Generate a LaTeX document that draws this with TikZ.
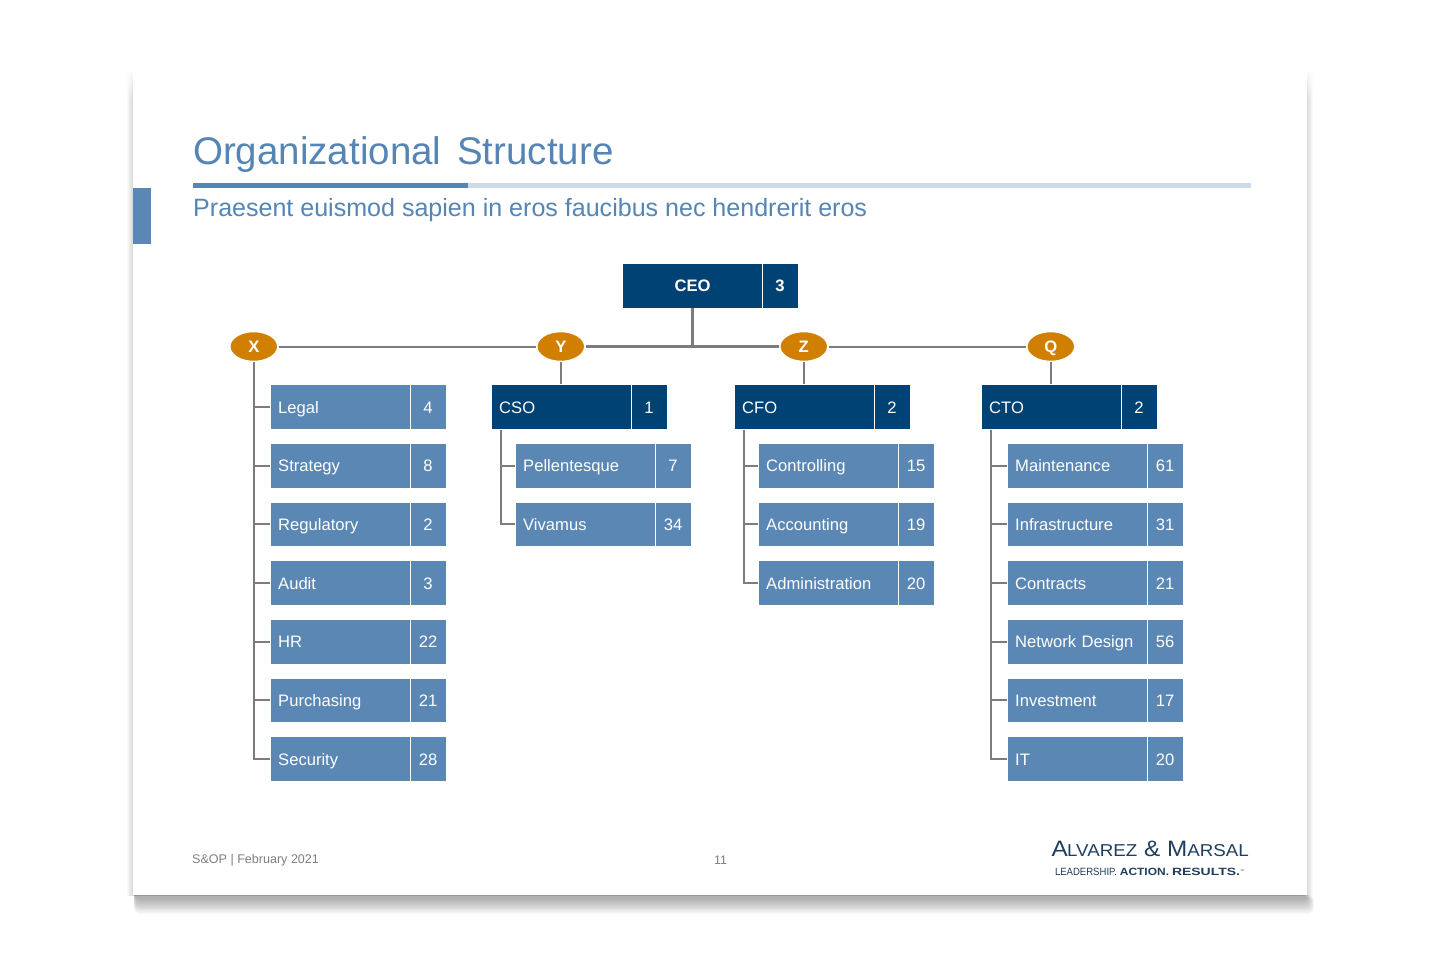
\documentclass[tikz,border=0pt]{standalone}
\usepackage{fontspec}
\setmainfont{Liberation Sans}
\usetikzlibrary{positioning,shapes.geometric,fadings}

\definecolor{slateblue}{HTML}{5B87B5}
\definecolor{navyblue}{HTML}{004274}
\definecolor{titleblue}{HTML}{5585B5}
\definecolor{palebar}{HTML}{CDDBE9}
\definecolor{ochre}{HTML}{D07F00}
\definecolor{linegray}{HTML}{7F7B7B}
\definecolor{footgray}{HTML}{7F7F7F}
\definecolor{logoblue}{HTML}{1F3F60}

\tikzset{
  unitbox/.style={rectangle, fill=slateblue, draw=white, line width=0.6pt, text=white, font=\fontsize{16.6}{18}\selectfont, minimum height=44.6pt, text height=12pt, text depth=0pt, anchor=west},
  namebox/.style={unitbox, minimum width=139.6pt, text width=124.6pt, inner xsep=7.5pt, align=left},
  countbox/.style={unitbox, minimum width=35.6pt, inner xsep=0pt, align=center, right=-0.6pt of #1},
  headname/.style={namebox, fill=navyblue},
  headcount/.style={countbox=#1, fill=navyblue},
  groupmark/.style={ellipse, fill=ochre, draw=white, line width=1.5pt, minimum width=48pt, minimum height=30pt, inner sep=0pt, text=white, text height=12pt, text depth=0pt, font=\fontsize{16.6}{18}\selectfont\bfseries},
  link/.style={draw=linegray, line width=2pt},
  buslink/.style={draw=linegray, line width=2.6pt},
}

\begin{document}
\begin{tikzpicture}[x=1pt, y=-1pt, node distance=13.47pt]
  \useasboundingbox (0,0) rectangle (1440,960);
  \fill[white] (0,0) rectangle (1440,960);

  % slide and its shadow
  \foreach \s in {0,...,5}
    \fill[black, opacity=0.022] ({127+\s},72) rectangle ({1313-\s},896);
  \foreach \s in {0,...,11}
    \fill[black, opacity=0.026] (134,895) [rounded corners=5pt] -- ({1314-0.6*\s},895) -- ({1314-0.6*\s},{914-1.3*\s}) -- ({134+0.2*\s},{914-1.3*\s}) [sharp corners] -- cycle;
  \fill[white] (133,60) rectangle (1307,895);
  \fill[white, path fading=south] (120,66) rectangle (1320,100);
  \fill[slateblue] (133,188) rectangle (151,244);

  % heading
  \node[anchor=base west, inner sep=0pt, text=titleblue, font=\fontsize{38.5}{40}\selectfont] (title) at (193,165) {Organizational\hspace{5.2pt} Structure};
  \fill[palebar] (193,183) rectangle (1251,188);
  \fill[titleblue] (193,183) rectangle (468,188);
  \node[anchor=base west, inner sep=0pt, text=titleblue, font=\fontsize{25.05}{26}\selectfont] (subtitle) at (193,217) {Praesent euismod sapien in eros faucibus nec hendrerit eros};

  % top box
  \node[headname, text width=124.6pt, align=center, font=\fontsize{16.6}{18}\selectfont\bfseries] (ceo) at (622.4,285.6) {CEO};
  \node[headcount=ceo.east, font=\fontsize{16.6}{18}\selectfont\bfseries] (ceon) {3};
  \coordinate (bus) at (692.5,346.5);

  % group marks
  \node[groupmark] (x) at (253.8,346.5) {X};
  \node[groupmark] (y) at (560.8,346.5) {Y};
  \node[groupmark] (z) at (803.8,346.5) {Z};
  \node[groupmark] (q) at (1050.8,346.5) {Q};

  % first column
  \node[namebox] (legal) at (270.4,407) {Legal};
  \node[countbox=legal.east] (legaln) {4};
  \node[namebox, below=of legal] (strategy) {Strategy};
  \node[countbox=strategy.east] (strategyn) {8};
  \node[namebox, below=of strategy] (regulatory) {Regulatory};
  \node[countbox=regulatory.east] (regulatoryn) {2};
  \node[namebox, below=of regulatory] (audit) {Audit};
  \node[countbox=audit.east] (auditn) {3};
  \node[namebox, below=of audit] (hr) {HR};
  \node[countbox=hr.east] (hrn) {22};
  \node[namebox, below=of hr] (purchasing) {Purchasing};
  \node[countbox=purchasing.east] (purchasingn) {21};
  \node[namebox, below=of purchasing] (security) {Security};
  \node[countbox=security.east] (securityn) {28};

  % second column
  \node[headname] (cso) at (491.4,407) {CSO};
  \node[headcount=cso.east] (cson) {1};
  \node[namebox] (pellentesque) at (515.4,465.7) {Pellentesque};
  \node[countbox=pellentesque.east] (pellentesquen) {7};
  \node[namebox, below=of pellentesque] (vivamus) {Vivamus};
  \node[countbox=vivamus.east] (vivamusn) {34};

  % third column
  \node[headname] (cfo) at (734.4,407) {CFO};
  \node[headcount=cfo.east] (cfon) {2};
  \node[namebox] (controlling) at (758.4,465.7) {Controlling};
  \node[countbox=controlling.east] (controllingn) {15};
  \node[namebox, below=of controlling] (accounting) {Accounting};
  \node[countbox=accounting.east] (accountingn) {19};
  \node[namebox, below=of accounting] (administration) {Administration};
  \node[countbox=administration.east] (administrationn) {20};

  % fourth column
  \node[headname] (cto) at (981.4,407) {CTO};
  \node[headcount=cto.east] (cton) {2};
  \node[namebox] (maintenance) at (1007.4,465.7) {Maintenance};
  \node[countbox=maintenance.east] (maintenancen) {61};
  \node[namebox, below=of maintenance] (infrastructure) {Infrastructure};
  \node[countbox=infrastructure.east] (infrastructuren) {31};
  \node[namebox, below=of infrastructure] (contracts) {Contracts};
  \node[countbox=contracts.east] (contractsn) {21};
  \node[namebox, below=of contracts] (network) {Network Design};
  \node[countbox=network.east] (networkn) {56};
  \node[namebox, below=of network] (investment) {Investment};
  \node[countbox=investment.east] (investmentn) {17};
  \node[namebox, below=of investment] (it) {IT};
  \node[countbox=it.east] (itn) {20};

  % connectors
  \draw[buslink] (ceo.south -| bus) -- (bus);
  \draw[link] (x) -- (y);
  \draw[buslink] (y) -- (z);
  \draw[link] (z) -- (q);
  \draw[link] (y) -- (y |- cso.north);
  \draw[link] (z) -- (z |- cfo.north);
  \draw[link] (q) -- (q |- cto.north);

  \draw[link] (x.south) |- (legal);
  \draw[link] (x.south) |- (strategy);
  \draw[link] (x.south) |- (regulatory);
  \draw[link] (x.south) |- (audit);
  \draw[link] (x.south) |- (hr);
  \draw[link] (x.south) |- (purchasing);
  \draw[link] (x.south) |- (security);

  \draw[link] ([xshift=9.5pt]cso.south west) |- (pellentesque);
  \draw[link] ([xshift=9.5pt]cso.south west) |- (vivamus);

  \draw[link] ([xshift=10pt]cfo.south west) |- (controlling);
  \draw[link] ([xshift=10pt]cfo.south west) |- (accounting);
  \draw[link] ([xshift=10pt]cfo.south west) |- (administration);

  \draw[link] ([xshift=10pt]cto.south west) |- (maintenance);
  \draw[link] ([xshift=10pt]cto.south west) |- (infrastructure);
  \draw[link] ([xshift=10pt]cto.south west) |- (contracts);
  \draw[link] ([xshift=10pt]cto.south west) |- (network);
  \draw[link] ([xshift=10pt]cto.south west) |- (investment);
  \draw[link] ([xshift=10pt]cto.south west) |- (it);

  % footer
  \node[anchor=base west, inner sep=0pt, text=footgray, font=\fontsize{12.55}{14}\selectfont] (date) at (192,863.5) {S\&OP | February 2021};
  \node[anchor=base, inner sep=0pt, text=footgray, font=\fontsize{12.4}{14}\selectfont] (page) at (720.5,864) {11};
  \node[anchor=base east, inner sep=0pt, xscale=1.09, transform shape, text=logoblue, font=\fontsize{22.3}{24}\selectfont] (logo) at (1249,856) {A\kern-0.5pt{\fontsize{17.2}{24}\selectfont LVAREZ} \& M{\fontsize{17.2}{24}\selectfont ARSAL}};
  \node[anchor=base, inner sep=0pt, text=logoblue, font=\fontsize{10.5}{12}\selectfont] (motto) at (1149.5,875) {\scalebox{0.91}[1]{LEADERSHIP.} \scalebox{1.14}[1]{\textbf{ACTION.}} \scalebox{1.33}[1]{\textbf{RESULTS.}}\raisebox{3pt}{\fontsize{4}{4}\selectfont ™}};
\end{tikzpicture}
\end{document}
